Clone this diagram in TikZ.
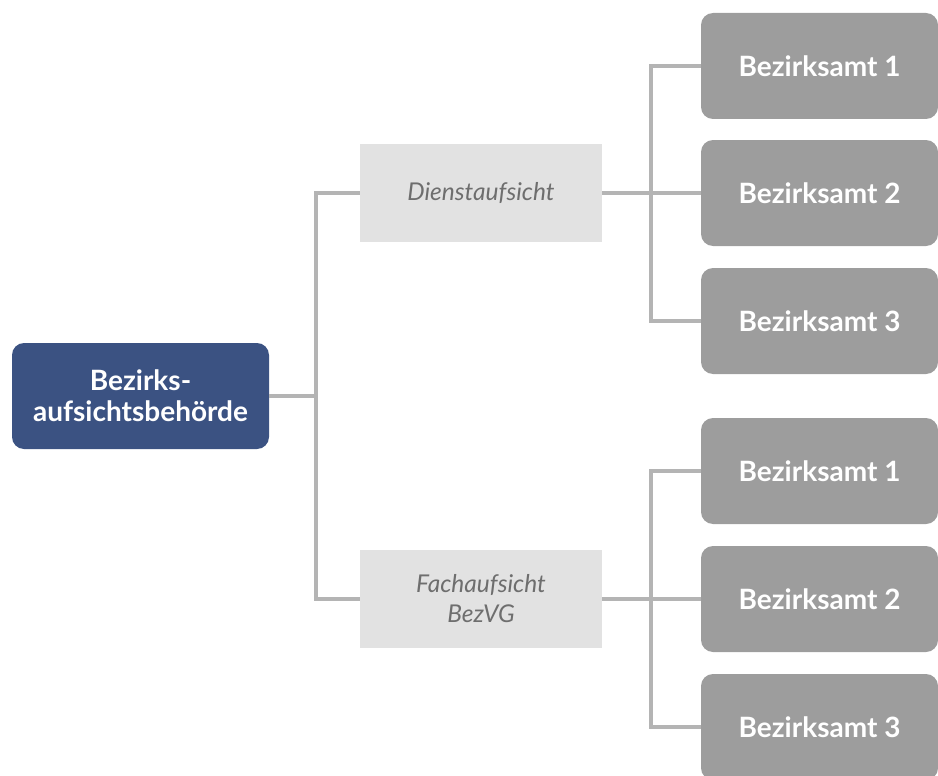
\documentclass[tikz,border=0pt]{standalone}
\usepackage{fontspec}
\setmainfont{Lato}
\begin{document}
\begin{tikzpicture}[x=1pt,y=-1pt,
  line/.style={draw=linegray,line width=3.5pt},
  rootbox/.style={fill=rootblue,rounded corners=12pt,minimum width=257pt,minimum height=106pt,
    text=white,font=\fontsize{28}{31}\selectfont\bfseries,align=center,inner sep=0pt},
  aufsicht/.style={fill=boxlight,minimum width=242pt,minimum height=98pt,
    text=textgray,font=\fontsize{24.5}{30}\selectfont\itshape,align=center,inner sep=0pt},
  amt/.style={fill=amtgray,rounded corners=12pt,minimum width=237pt,minimum height=106pt,
    text=white,font=\fontsize{28}{31}\selectfont\bfseries,inner sep=0pt}]
\definecolor{rootblue}{HTML}{3B5282}
\definecolor{boxlight}{HTML}{E2E2E2}
\definecolor{textgray}{HTML}{6E6E6E}
\definecolor{amtgray}{HTML}{9D9D9D}
\definecolor{linegray}{HTML}{B4B4B4}
\useasboundingbox (0,0) rectangle (938,776);

% main authority
\node[rootbox] (root) at (140.5,396) {Bezirks-\\aufsichtsbehörde};

% supervision branches
\node[aufsicht] (dienst) at (481,193) {Dienstaufsicht};
\node[aufsicht] (fach) at (481,599) {Fachaufsicht\\BezVG};

% district offices
\node[amt] (a1) at (819.5,66) {Bezirksamt 1};
\node[amt] (a2) at (819.5,193) {Bezirksamt 2};
\node[amt] (a3) at (819.5,321) {Bezirksamt 3};
\node[amt] (b1) at (819.5,471) {Bezirksamt 1};
\node[amt] (b2) at (819.5,599) {Bezirksamt 2};
\node[amt] (b3) at (819.5,727) {Bezirksamt 3};

% junction points
\coordinate (jr) at (316,396);
\coordinate (jd) at (651,193);
\coordinate (jf) at (651,599);

% connectors
\draw[line] (root.east) -- (jr);
\draw[line] (dienst.west) -| (jr) |- (fach.west);
\draw[line] (dienst.east) -- (a2.west);
\draw[line] (a1.west) -| (jd) |- (a3.west);
\draw[line] (fach.east) -- (b2.west);
\draw[line] (b1.west) -| (jf) |- (b3.west);
\end{tikzpicture}
\end{document}
